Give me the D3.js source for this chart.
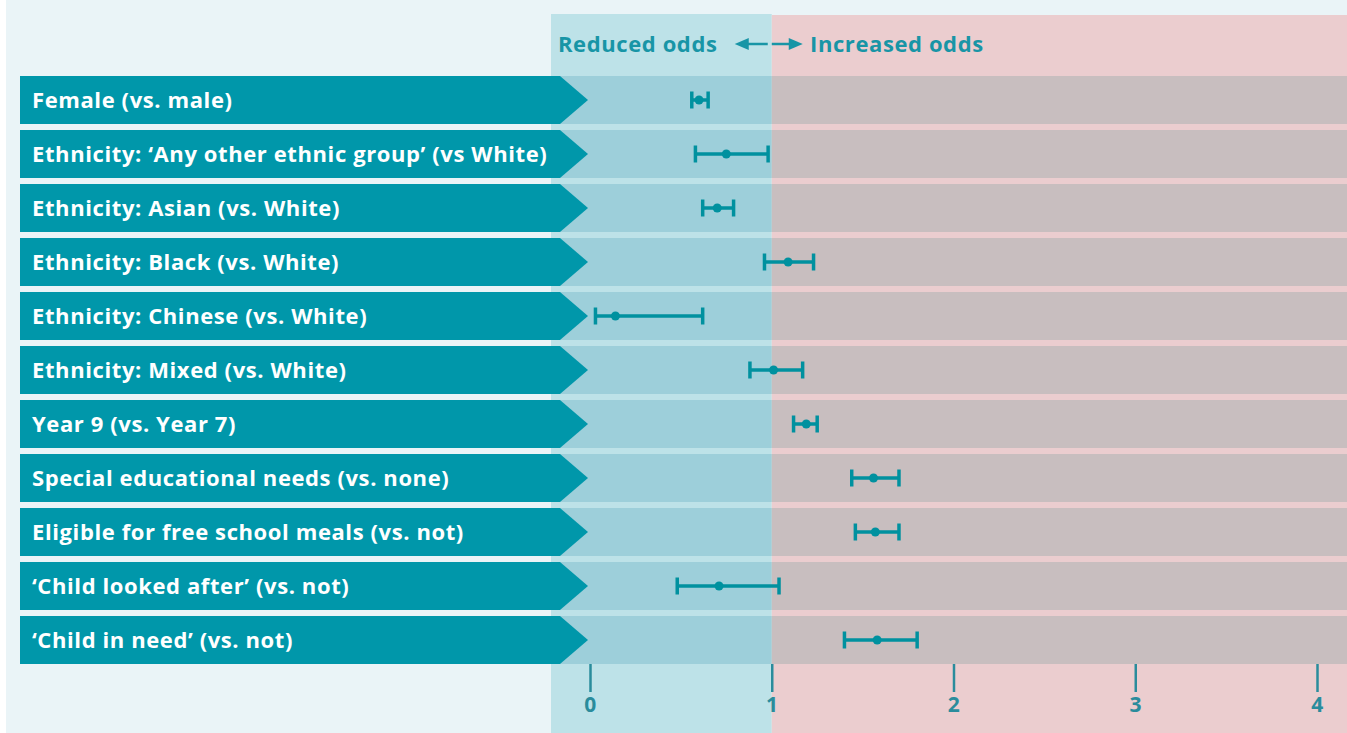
<!DOCTYPE html>
<html>
<head>
<meta charset="utf-8">
<script src="https://cdn.jsdelivr.net/npm/d3@7"></script>
<style>
  body { margin: 0; background: #ffffff; }
  svg { display: block; }
  .lbl { font-family: "Open Sans", Lato, sans-serif; font-weight: 700; letter-spacing: 0.6px; }
</style>
</head>
<body>
<div id="chart"></div>
<script>
// DATA
const categories = [
  "Female (vs. male)",
  "Ethnicity: \u2018Any other ethnic group\u2019 (vs White)",
  "Ethnicity: Asian (vs. White)",
  "Ethnicity: Black (vs. White)",
  "Ethnicity: Chinese (vs. White)",
  "Ethnicity: Mixed (vs. White)",
  "Year 9 (vs. Year 7)",
  "Special educational needs (vs. none)",
  "Eligible for free school meals (vs. not)",
  "\u2018Child looked after\u2019 (vs. not)",
  "\u2018Child in need\u2019 (vs. not)"
];
const oddsRatio = [0.60, 0.75, 0.70, 1.09, 0.14, 1.01, 1.19, 1.56, 1.57, 0.71, 1.58];
const lowerCI   = [0.56, 0.58, 0.62, 0.96, 0.03, 0.88, 1.12, 1.44, 1.46, 0.48, 1.40];
const upperCI   = [0.65, 0.98, 0.79, 1.23, 0.62, 1.17, 1.25, 1.70, 1.70, 1.04, 1.80];
const xTicks = [0, 1, 2, 3, 4];
const headLeft = "Reduced odds";
const headRight = "Increased odds";

// CONSTANTS
const width = 1347,
  height = 733,
  rowTop = 76,
  rowH = 48,
  rowPitch = 54;

const teal = "#0097AA",
  barTeal = "#00919F",
  textTeal = "#1895A6",
  tickTeal = "#2A8C9C";

const svg = d3.select("#chart")
  .append("svg")
  .attr("width", width)
  .attr("height", height);

// scales
const xScale = d3.scaleLinear().domain([0, 4]).range([590, 1317]);
const yScale = d3.scaleBand()
  .domain(categories)
  .range([rowTop, rowTop + rowPitch * categories.length]);

// BACKGROUND
svg.append("rect").attr("x", 6).attr("y", 0).attr("width", width - 6).attr("height", height).attr("fill", "#EAF4F7");
svg.append("rect").attr("x", 551).attr("y", 14).attr("width", xScale(1) - 551).attr("height", height - 14).attr("fill", "#BDE2E8");
svg.append("rect").attr("x", xScale(1)).attr("y", 15).attr("width", width - xScale(1)).attr("height", height - 15).attr("fill", "#EBCDCF");

// row bands
const rows = svg.append("g").selectAll("g")
  .data(categories)
  .join("g")
  .attr("transform", d => `translate(0,${yScale(d)})`);

rows.append("rect")
  .attr("x", 551).attr("y", 0)
  .attr("width", xScale(1) - 551).attr("height", rowH)
  .attr("fill", "#9DCFDA");
rows.append("rect")
  .attr("x", xScale(1)).attr("y", 0)
  .attr("width", width - xScale(1)).attr("height", rowH)
  .attr("fill", "#C8BEBF");

// label arrows
rows.append("path")
  .attr("d", `M20,0 H560 L588,${rowH / 2} L560,${rowH} H20 Z`)
  .attr("fill", teal);
rows.append("text")
  .attr("class", "lbl")
  .attr("x", 32)
  .attr("y", rowH / 2)
  .attr("dy", "0.36em")
  .attr("fill", "#ffffff")
  .attr("font-size", 22)
  .text(d => d);

// error bars
const cap = 8.5;
const bars = rows.append("g").attr("stroke", barTeal).attr("stroke-width", 3.5);
bars.append("line")
  .attr("x1", (d, i) => xScale(lowerCI[i]))
  .attr("x2", (d, i) => xScale(upperCI[i]))
  .attr("y1", rowH / 2).attr("y2", rowH / 2);
bars.append("line")
  .attr("x1", (d, i) => xScale(lowerCI[i]))
  .attr("x2", (d, i) => xScale(lowerCI[i]))
  .attr("y1", rowH / 2 - cap).attr("y2", rowH / 2 + cap);
bars.append("line")
  .attr("x1", (d, i) => xScale(upperCI[i]))
  .attr("x2", (d, i) => xScale(upperCI[i]))
  .attr("y1", rowH / 2 - cap).attr("y2", rowH / 2 + cap);
rows.append("circle")
  .attr("cx", (d, i) => xScale(oddsRatio[i]))
  .attr("cy", rowH / 2)
  .attr("r", 4.5)
  .attr("fill", barTeal);

// AXIS
const axisY = rowTop + rowPitch * categories.length - 6;
const xAxis = d3.axisBottom(xScale)
  .tickValues(xTicks)
  .tickSize(28)
  .tickPadding(5)
  .tickFormat(d3.format("d"));
const gx = svg.append("g")
  .attr("transform", `translate(0,${axisY})`)
  .call(xAxis);
gx.select(".domain").remove();
gx.selectAll(".tick line").attr("stroke", tickTeal).attr("stroke-width", 2.5);
gx.selectAll(".tick text")
  .attr("class", "lbl")
  .attr("fill", tickTeal)
  .attr("font-size", 21);

// HEADER
const headY = 44;
svg.append("text")
  .attr("class", "lbl")
  .attr("x", 558).attr("y", headY).attr("dy", "0.36em")
  .attr("fill", textTeal).attr("font-size", 22)
  .text(headLeft);
svg.append("text")
  .attr("class", "lbl")
  .attr("x", 810).attr("y", headY).attr("dy", "0.36em")
  .attr("fill", textTeal).attr("font-size", 22)
  .text(headRight);

// little arrows either side of x = 1
const ax = xScale(1);
const arr = svg.append("g").attr("fill", textTeal).attr("stroke", textTeal);
arr.append("line").attr("x1", ax - 4).attr("x2", ax - 26).attr("y1", headY).attr("y2", headY).attr("stroke-width", 2.5);
arr.append("path").attr("d", `M${ax - 37},${headY} L${ax - 23},${headY - 6} L${ax - 23},${headY + 6} Z`).attr("stroke", "none");
arr.append("line").attr("x1", ax).attr("x2", ax + 20).attr("y1", headY).attr("y2", headY).attr("stroke-width", 2.5);
arr.append("path").attr("d", `M${ax + 31},${headY} L${ax + 17},${headY - 6} L${ax + 17},${headY + 6} Z`).attr("stroke", "none");
</script>
</body>
</html>
